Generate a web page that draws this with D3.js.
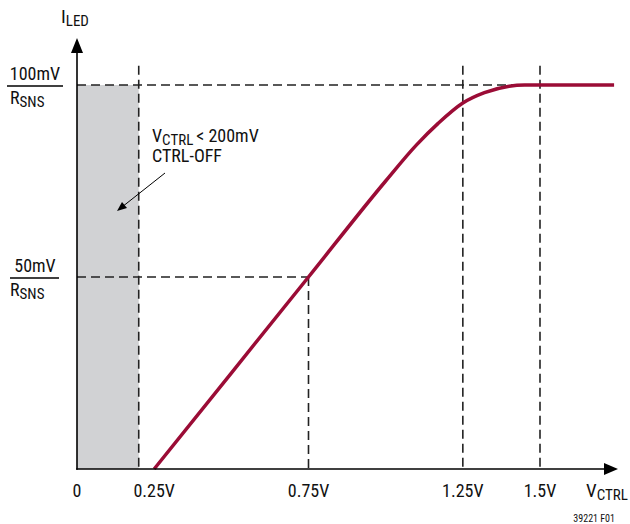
<!DOCTYPE html>
<html>
<head>
<meta charset="utf-8">
<script src="https://cdn.jsdelivr.net/npm/d3@7"></script>
<style>
  body { margin: 0; background: #fff; }
  text { font-family: "Liberation Sans Narrow", "Roboto Condensed", "Liberation Sans", sans-serif; fill: #111; }
</style>
</head>
<body>
<svg id="chart" width="630" height="524"></svg>
<script>

// curve: I_LED (mV / R_SNS) vs V_CTRL (V)
const vCtrl = [0.25, 0.75, 1.0, 1.1, 1.17, 1.25, 1.32, 1.4, 1.45, 1.74];
const iLed  = [0, 50, 75, 84.4, 90, 95.3, 98, 99.7, 100, 100];

const xTicks      = [0, 0.25, 0.75, 1.25, 1.5];
const xTickLabels = ["0", "0.25V", "0.75V", "1.25V", "1.5V"];

const yLevels     = [100, 50];
const yLevelTops  = ["100mV", "50mV"];

const offLimit = 0.2;        // V_CTRL < 200mV shaded band
const guideV   = [0.2, 1.25, 1.5];

const svg = d3.select("#chart");

const x = d3.scaleLinear().domain([0, 1.5]).range([77, 540]);
const y = d3.scaleLinear().domain([0, 100]).range([469, 85]);

const dashColor = "#222";
const lineColor = "#9b0c36";

// shaded off region
svg.append("rect")
  .attr("x", x(0))
  .attr("y", y(100))
  .attr("width", x(offLimit) - x(0))
  .attr("height", y(0) - y(100))
  .attr("fill", "#d1d2d4");

// dashed guides
const guides = svg.append("g")
  .attr("stroke", dashColor)
  .attr("stroke-width", 1.6)
  .attr("stroke-dasharray", "9 5")
  .attr("fill", "none");

guides.selectAll(".gv")
  .data(guideV)
  .join("line")
    .attr("x1", d => x(d))
    .attr("x2", d => x(d))
    .attr("y1", y(105))
    .attr("y2", y(0));

guides.append("line")   // 0.75V drop line
  .attr("x1", x(0.75)).attr("x2", x(0.75))
  .attr("y1", y(50)).attr("y2", y(0));

guides.append("line")
  .attr("x1", x(0)).attr("x2", x(1.42))
  .attr("y1", y(100)).attr("y2", y(100));

guides.append("line")
  .attr("x1", x(0)).attr("x2", x(0.75))
  .attr("y1", y(50)).attr("y2", y(50));

// curve
const pts = vCtrl.map((v, i) => [v, iLed[i]]);
svg.append("path")
  .datum(pts)
  .attr("fill", "none")
  .attr("stroke", lineColor)
  .attr("stroke-width", 3.5)
  .attr("stroke-linejoin", "round")
  .attr("d", d3.line()
    .x(d => x(d[0]))
    .y(d => y(d[1]))
    .curve(d3.curveMonotoneX));

// axes with arrowheads
const axes = svg.append("g").attr("stroke", "#000").attr("stroke-width", 1.6);
axes.append("line")
  .attr("x1", x(0)).attr("x2", x(0))
  .attr("y1", y(0) + 0.8).attr("y2", 50);
axes.append("line")
  .attr("x1", x(0) - 0.8).attr("x2", 606)
  .attr("y1", y(0)).attr("y2", y(0));

svg.append("path")
  .attr("d", `M${x(0) - 6},${53} L${x(0)},${38} L${x(0) + 6},${53} Z`)
  .attr("fill", "#000");
svg.append("path")
  .attr("d", `M604,${y(0) - 6} L618,${y(0)} L604,${y(0) + 6} Z`)
  .attr("fill", "#000");

// x tick labels
svg.selectAll(".xt")
  .data(xTicks)
  .join("text")
    .attr("x", d => x(d))
    .attr("y", 497)
    .attr("text-anchor", "middle")
    .attr("font-size", 18)
    .text((d, i) => xTickLabels[i]);

// x axis title
const xTitle = svg.append("text")
  .attr("x", 586)
  .attr("y", 497)
  .attr("font-size", 19);
xTitle.append("tspan").text("V");
xTitle.append("tspan").attr("dy", 3).attr("font-size", 15).text("CTRL");

// y axis title
const yTitle = svg.append("text")
  .attr("x", 61)
  .attr("y", 23)
  .attr("font-size", 19);
yTitle.append("tspan").text("I");
yTitle.append("tspan").attr("dy", 3).attr("font-size", 15).text("LED");

// y level labels as fractions
yLevels.forEach((lv, i) => {
  const cy = y(lv);
  svg.append("text")
    .attr("x", 35)
    .attr("y", cy - 5)
    .attr("text-anchor", "middle")
    .attr("font-size", 18)
    .text(yLevelTops[i]);
  svg.append("line")
    .attr("x1", i === 0 ? 7 : 10)
    .attr("x2", i === 0 ? 63 : 59)
    .attr("y1", cy + 1)
    .attr("y2", cy + 1)
    .attr("stroke", "#000")
    .attr("stroke-width", 1.3);
  const r = svg.append("text")
    .attr("x", 10)
    .attr("y", cy + 19)
    .attr("font-size", 18);
  r.append("tspan").text("R");
  r.append("tspan").attr("dy", 3).attr("font-size", 15).text("SNS");
});

// annotation
const note = svg.append("text")
  .attr("x", 152)
  .attr("y", 142)
  .attr("font-size", 18);
note.append("tspan").text("V");
note.append("tspan").attr("dy", 3).attr("font-size", 15).text("CTRL");
note.append("tspan").attr("dy", -3).attr("dx", 3).text("< 200mV");

svg.append("text")
  .attr("x", 152)
  .attr("y", 162)
  .attr("font-size", 18)
  .text("CTRL-OFF");

svg.append("line")
  .attr("x1", 165).attr("y1", 173)
  .attr("x2", 122).attr("y2", 207)
  .attr("stroke", "#000")
  .attr("stroke-width", 1);
svg.append("path")
  .attr("d", "M117,211 L122,202 L127,208 Z")
  .attr("fill", "#000");

// figure id
svg.append("text")
  .attr("x", 615)
  .attr("y", 522)
  .attr("text-anchor", "end")
  .attr("font-size", 10)
  .text("39221 F01");

</script>
</body>
</html>
